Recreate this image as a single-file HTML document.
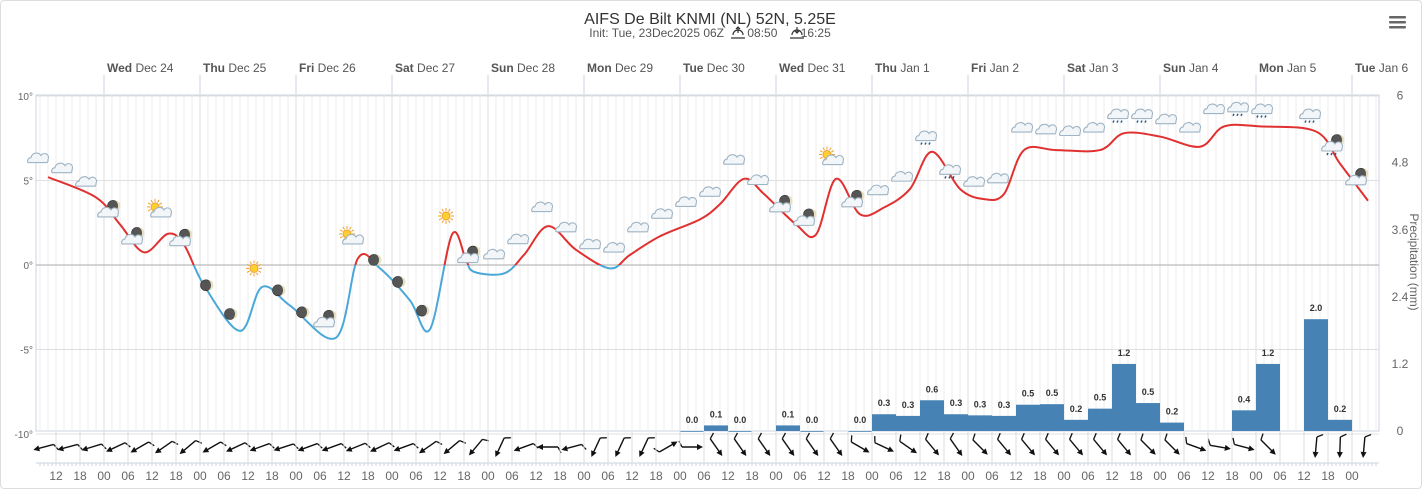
<!DOCTYPE html>
<html><head><meta charset="utf-8">
<style>
html,body{margin:0;padding:0;background:#fff;}
body{width:1422px;height:489px;overflow:hidden;font-family:"Liberation Sans",sans-serif;}
#frame{position:absolute;left:0;top:0;width:1420px;height:487px;border:1px solid #ddd;border-radius:4px;}
svg text{font-family:"Liberation Sans",sans-serif;}
</style></head>
<body>
<div id="frame"></div>
<svg id="chart" width="1422" height="489" style="position:absolute;left:0;top:0">
  <text x="710" y="24" text-anchor="middle" font-size="16" fill="#333">AIFS De Bilt KNMI (NL) 52N, 5.25E</text>
  <text x="710" y="37" text-anchor="middle" font-size="12" fill="#555">Init: Tue, 23Dec2025 06Z &#160; &#160; &#160; 08:50 &#160; &#160; &#160; 16:25</text>
  <g stroke="#333" stroke-width="1.2" fill="none"><path d="M731 38 h14 M733 35 a5 5 0 0 1 10 0 M738 33 v-6 M736 29 l2 -2 l2 2"/></g>
  <g stroke="#333" stroke-width="1.2" fill="none"><path d="M790 38 h14 M792 35 a5 5 0 0 1 10 0 M797 27 v6 M795 31 l2 2 l2 -2"/></g>
  <g fill="#666"><rect x="1389" y="16" width="17" height="2.5" rx="1"/><rect x="1389" y="21" width="17" height="2.5" rx="1"/><rect x="1389" y="26" width="17" height="2.5" rx="1"/></g>
  <g id="grid"></g>
  <g id="bars"></g>
  <g id="temp"></g>
  <g id="icons"></g>
  <g id="wind"></g>
  <g id="axes"></g>
  <text transform="translate(1410,262) rotate(90)" text-anchor="middle" font-size="12" fill="#666">Precipitation (mm)</text>
</svg>
<script>
// ---- data ----
const tempHours = [-15,-14,-2,4,10,16,20,25,34,39.5,46.5,58,63.5,69,76.5,81.5,87,90.5,92.5,100,105,111,118,126.5,131.5,139,149,154,160,165,173,178,183,189,195,201.5,207,214,220,225,230,238,249,255,264,274,280,289,303,309,316];
const tempValues = [5.3,5.2,4.0,2.4,0.75,1.85,1.2,-1.2,-3.9,-1.3,-2.4,-4.3,0.4,-0.2,-2.1,-3.8,1.8,0.3,-0.4,-0.5,0.6,2.3,0.9,-0.2,0.6,1.7,2.7,3.6,5.1,4.2,2.4,1.8,5.1,3.0,3.4,4.5,6.7,4.5,3.9,4.2,6.8,6.8,6.8,7.8,7.6,7.0,8.2,8.2,7.9,6.0,3.8];
const precipHours = [147,153,159,171,177,189,195,201,207,213,219,225,231,237,243,249,255,261,267,285,291,303,309];
const precipValues = [0.0,0.1,0.0,0.1,0.0,0.0,0.3,0.27,0.55,0.3,0.28,0.27,0.47,0.48,0.2,0.4,1.2,0.5,0.15,0.37,1.2,2.0,0.2];
const precipLabels = ["0.0","0.1","0.0","0.1","0.0","0.0","0.3","0.3","0.6","0.3","0.3","0.3","0.5","0.5","0.2","0.5","1.2","0.5","0.2","0.4","1.2","2.0","0.2"];
const tempTicks = [10,5,0,-5,-10];
const tempTickLabels = ["10°","5°","0°","-5°","-10°"];
const precipTicks = [0,1.2,2.4,3.6,4.8,6];
const precipTickLabels = ["0","1.2","2.4","3.6","4.8","6"];
const dayNames = ["Wed","Thu","Fri","Sat","Sun","Mon","Tue","Wed","Thu","Fri","Sat","Sun","Mon","Tue"];
const dayDates = ["Dec 24","Dec 25","Dec 26","Dec 27","Dec 28","Dec 29","Dec 30","Dec 31","Jan 1","Jan 2","Jan 3","Jan 4","Jan 5","Jan 6"];
const iconHours = [];
for(let k=-3;k<=52;k++) iconHours.push(3+6*k-1.5);
const iconTypes = ["c","c","c","mc","mc","sc","mc","m","m","s","m","m","mc","sc","m","m","m","s","mc","c","c","c","c","c","c","c","c","c","c","c","c","mc","mc","sc","mc","c","c","r","r","c","c","c","c","c","c","r","r","c","c","c","r","r","","r","mr","mc"];
const iconTemps = [6.3,5.7,4.9,3.2,1.6,3.2,1.5,-1.2,-2.9,-0.2,-1.5,-2.8,-3.3,1.6,0.3,-1.0,-2.7,2.9,0.5,0.6,1.5,3.4,2.2,1.2,1.0,2.2,3.0,3.7,4.3,6.2,5.0,3.5,2.7,6.3,3.8,4.4,5.2,7.6,5.6,4.9,5.1,8.1,8.0,7.9,8.1,8.9,8.9,8.6,8.1,9.2,9.3,9.2,0,8.9,7.1,5.1];
const windAngles = [165,165,163,155,150,145,140,150,155,160,162,160,160,158,155,160,145,140,130,115,160,180,165,115,115,115,330,0,55,55,55,55,55,55,30,25,35,50,55,45,50,50,50,50,50,50,45,45,20,10,15,45,null,95,92,95];

// ---- scales ----
const X0=36, X1=1379, Y0=95, YB=431;
const xs = h => 104 + 4*h;
const yT = t => 265 - 16.9*t;
const yP = p => 431 - 55.9*p;
const NS="http://www.w3.org/2000/svg";
function mk(tag, attrs, parent){const e=document.createElementNS(NS,tag);for(const k in attrs)e.setAttribute(k,attrs[k]);parent.appendChild(e);return e;}
const grid=document.getElementById('grid'), axes=document.getElementById('axes');

mk('rect',{x:X0,y:Y0,width:X1-X0,height:YB-Y0,fill:'#fff',stroke:'#ccd6e0'},grid);
for(let h=-16;h<=318;h+=2){const x=xs(h); if(x<=X0||x>=X1) continue;
  const l=mk('line',{x1:x,x2:x,y1:Y0,y2:YB,stroke:(h%24===0)?'#ddd':'#ececec','stroke-width':1},grid);
  
  }
tempTicks.forEach((t,i)=>{const y=yT(t);
  const l=mk('line',{x1:X0,x2:X1,y1:y,y2:y,stroke:t===0?'#aaa':'#e0e0e0'},grid);
  
  
  const tx=mk('text',{x:X0-3,y:y+4,'text-anchor':'end','font-size':10,fill:'#666'},axes); tx.textContent=tempTickLabels[i];
  
  });
precipTicks.forEach((p,i)=>{
  const tx=mk('text',{x:1400,y:yP(p)+4,'text-anchor':'middle','font-size':12,fill:'#666'},axes); tx.textContent=precipTickLabels[i];
  
  });
dayNames.forEach((d,i)=>{const x=xs(24*i);
  const l=mk('line',{x1:x,x2:x,y1:75,y2:Y0,stroke:'#ccd6e0'},axes);
  
  
  const t=mk('text',{x:x+3,y:72,'font-size':12,fill:'#555'},axes);
  t.innerHTML='<tspan font-weight="bold">'+d+'</tspan> '+dayDates[i];
  
  });
mk('line',{x1:X0,x2:X1,y1:463,y2:463,stroke:'#ccd6e0'},axes);
for(let h=-16;h<=318;h+=1){const x=xs(h); if(x<X0||x>X1) continue; mk('line',{x1:x,x2:x,y1:463,y2:466,stroke:'#ccd6e0'},axes);}
for(let h=-12;h<=312;h+=6){const x=xs(h);
  mk('line',{x1:x,x2:x,y1:YB,y2:463,stroke:'#ddd'},axes);
  const t=mk('text',{x:x,y:480,'text-anchor':'middle','font-size':12,fill:'#666'},axes);
  t.textContent=String(((h%24)+24)%24).padStart(2,'0');
  
  }

const bars=document.getElementById('bars');
precipHours.forEach((h,i)=>{const x=xs(h-3), y=yP(precipValues[i]);
  const r=mk('rect',{x:x,y:y,width:24,height:Math.max(YB-y,0.8),fill:'#4682b4'},bars);
  
  
  const t=mk('text',{x:xs(h),y:y-8,'text-anchor':'middle','font-size':9,'font-weight':'bold',fill:'#333'},bars); t.textContent=precipLabels[i];
  
  });

// temperature curve (Catmull-Rom with padded endpoints)
const raw=tempHours.map((h,i)=>[xs(h),yT(tempValues[i])]);
const pts=[raw[0]].concat(raw.slice(1)).concat([raw[raw.length-1]]);
let d='M'+pts[1][0]+','+pts[1][1];
for(let i=1;i<pts.length-2;i++){const p0=pts[i-1],p1=pts[i],p2=pts[i+1],p3=pts[i+2];
  d+=' C'+(p1[0]+(p2[0]-p0[0])/6)+','+(p1[1]+(p2[1]-p0[1])/6)+' '+(p2[0]-(p3[0]-p1[0])/6)+','+(p2[1]-(p3[1]-p1[1])/6)+' '+p2[0]+','+p2[1];}
const tg=document.getElementById('temp');
const defs=mk('defs',{},tg);
const c1=mk('clipPath',{id:'above'},defs); mk('rect',{x:0,y:0,width:1422,height:yT(0)},c1);
const c2=mk('clipPath',{id:'below'},defs); mk('rect',{x:0,y:yT(0),width:1422,height:300},c2);
const red=mk('path',{d:d,fill:'none',stroke:'#e03030','stroke-width':2,'clip-path':'url(#above)'},tg);


const blue=mk('path',{d:d,fill:'none',stroke:'#4aa8d8','stroke-width':2,'clip-path':'url(#below)'},tg);



const ig=document.getElementById('icons');
function cloud(g,x,y){mk('path',{d:`M${x-10},${y+4} a3.5 3.5 0 0 1 3,-5 a5.5 5.5 0 0 1 10,-2 a3.5 3.5 0 0 1 7,4 a3 3 0 0 1 -1,3 z`,fill:'#f2f6f9',stroke:'#9fb4c4','stroke-width':1.1},g);}
function moon(g,x,y){mk('circle',{cx:x,cy:y,r:5.5,fill:'#555',stroke:'#333','stroke-width':0.6},g);mk('path',{d:`M${x+2},${y-5.5} a5.5 5.5 0 0 1 0,11 a6.5 6.5 0 0 0 0,-11z`,fill:'#e8e0c0'},g);}
function sun(g,x,y){for(let a=0;a<360;a+=30){const r=a*Math.PI/180;mk('line',{x1:x+5*Math.cos(r),y1:y+5*Math.sin(r),x2:x+8*Math.cos(r),y2:y+8*Math.sin(r),stroke:'#f0a030','stroke-width':1},g);}mk('circle',{cx:x,cy:y,r:4,fill:'#ffd030',stroke:'#f0a030'},g);}
function rain(g,x,y){[-4,0,4].forEach(dx=>mk('line',{x1:x+dx,y1:y+6,x2:x+dx-1,y2:y+8,stroke:'#2a5a8a','stroke-width':1.5},g));}
iconTypes.forEach((ty,i)=>{ if(!ty) return; const x=xs(iconHours[i]), y=yT(iconTemps[i]);
  const g=mk('g',{},ig);
  
  
  if(ty==='c'){cloud(g,x,y);}
  else if(ty==='mc'){moon(g,x+3,y-5);cloud(g,x-2,y+2);}
  else if(ty==='m'){moon(g,x,y);}
  else if(ty==='s'){sun(g,x,y);}
  else if(ty==='sc'){sun(g,x-3,y-4);cloud(g,x+3,y+2);}
  else if(ty==='r'){cloud(g,x,y);rain(g,x,y);}
  else if(ty==='mr'){moon(g,x+3,y-5);cloud(g,x-2,y+2);rain(g,x-2,y+2);} });

const wg=document.getElementById('wind');
windAngles.forEach((a,i)=>{ if(a===null) return; const h=3+6*(i-3); const cx=xs(h), cy=447;
  const g=mk('g',{transform:`translate(${cx},${cy}) rotate(${a})`},wg);
  
  
  mk('line',{x1:-10,y1:0,x2:9,y2:0,stroke:'#111','stroke-width':1.4},g);
  mk('path',{d:'M11,0 L5,-3 L5,3 Z',fill:'#111'},g);
  mk('line',{x1:-10,y1:0,x2:-13,y2:-6,stroke:'#111','stroke-width':1.3},g);
});
</script>
</body></html>
